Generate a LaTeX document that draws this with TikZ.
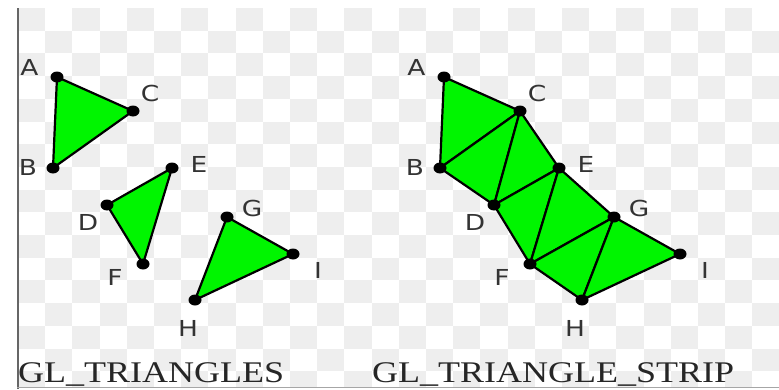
\documentclass[tikz,border=0pt]{standalone}
\usepackage{fontspec}
\newfontfamily\vtxfont{DejaVu Sans}
\newfontfamily\capfont{Liberation Serif}
\definecolor{stripgreen}{RGB}{0,245,0}
\definecolor{checkgray}{RGB}{238,238,238}

\begin{document}
\begin{tikzpicture}[x=1pt,y=-1pt,
  trifill/.style={fill=stripgreen,draw=black,line width=2.2pt,line join=round},
  vtxlabel/.style={font=\vtxfont\fontsize{22}{22}\selectfont,text=black!80,inner sep=0pt},
  captext/.style={font=\capfont\fontsize{30}{30}\selectfont,text=black!85,inner sep=0pt,anchor=base west}]
\useasboundingbox (0,0) rectangle (779,389);

% Transparency checkerboard behind both panels.
\begin{scope}
  \clip (17,8) rectangle (779,387);
  \foreach \i in {0,...,27} {
    \foreach \j in {0,...,16} {
      \pgfmathtruncatemacro{\sq}{mod(\i+\j,2)}
      \ifnum\sq=0 \fill[checkgray] (18+27.2*\i,8+22.7*\j) rectangle ++(27.2,22.7); \fi
    }
  }
\end{scope}
\draw[black!60,line width=2pt] (18,8) -- (18,389);
\draw[black!35,line width=1pt] (17,387.5) -- (779,387.5);

% Vertices (t = GL_TRIANGLES, s = strip shifted right) and their letters.
\foreach \p/\xx/\yy/\dx/\dy in {A/57/77/-27.5/-10, B/53/168/-25/-1, C/133/111/17/-18,
    D/107/205/-19/17, E/172/168/27/-4, F/143/264/-28/13,
    G/227/217/25/-9, H/195/300/-7/28, I/293/254/25/16} {
  \coordinate (t\p) at (\xx,\yy);
  \coordinate (s\p) at (\xx+387,\yy);
  \node[vtxlabel] (tl\p) at (\xx+\dx,\yy+\dy) {\scalebox{1.2}[1]{\p}};
  \node[vtxlabel] (sl\p) at (\xx+387+\dx,\yy+\dy) {\scalebox{1.2}[1]{\p}};
}

% Separate triangles.
\foreach \u/\v/\w in {A/B/C,D/E/F,G/H/I} {
  \filldraw[trifill] (t\u) -- (t\v) -- (t\w) -- cycle;
}

% Strip: every new vertex closes a triangle with the previous two.
\foreach \u/\v/\w in {A/B/C,B/C/D,C/D/E,D/E/F,E/F/G,F/G/H,G/H/I} {
  \filldraw[trifill] (s\u) -- (s\v) -- (s\w) -- cycle;
}

% Vertex dots.
\foreach \p in {A,B,C,D,E,F,G,H,I} {
  \fill (t\p) ellipse (6.5 and 5.5);
  \fill (s\p) ellipse (6.5 and 5.5);
}

% Captions.
\node[captext] (captri) at (18,382) {\scalebox{1.2}[1]{GL\_TRIANGLES}};
\node[captext] (capstrip) at (372,382) {\scalebox{1.2}[1]{GL\_TRIANGLE\_STRIP}};
\end{tikzpicture}
\end{document}
